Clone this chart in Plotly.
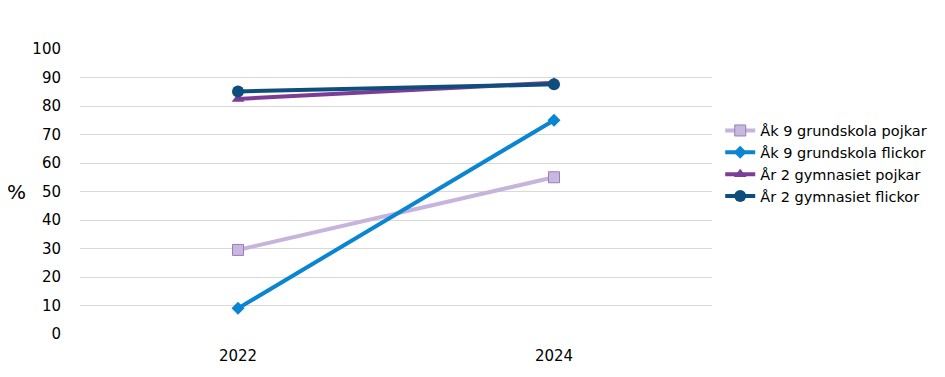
import plotly.graph_objects as go

years = ["2022", "2024"]
ak9_pojkar = [29.5, 55]
ak9_flickor = [9, 75]
gy2_pojkar = [82.5, 88.2]
gy2_flickor = [85.1, 87.6]
names = ["Åk 9 grundskola pojkar", "Åk 9 grundskola flickor",
         "År 2 gymnasiet pojkar", "År 2 gymnasiet flickor"]
y_ticks = list(range(0, 101, 10))

fig = go.Figure()
fig.add_trace(go.Scatter(x=years, y=ak9_pojkar, name=names[0], mode="lines+markers",
                         line=dict(color="#C6B4DC", width=4),
                         marker=dict(symbol="square", size=11, color="#C9B8DE",
                                     line=dict(color="#9A7DBE", width=1))))
fig.add_trace(go.Scatter(x=years, y=ak9_flickor, name=names[1], mode="lines+markers",
                         line=dict(color="#0A85D1", width=4),
                         marker=dict(symbol="diamond", size=10, color="#0A85D1")))
fig.add_trace(go.Scatter(x=years, y=gy2_pojkar, name=names[2], mode="lines+markers",
                         line=dict(color="#7B3D97", width=4),
                         marker=dict(symbol="triangle-up", size=11, color="#7B3D97")))
fig.add_trace(go.Scatter(x=years, y=gy2_flickor, name=names[3], mode="lines+markers",
                         line=dict(color="#0F4D7C", width=4),
                         marker=dict(symbol="circle", size=12, color="#0F4D7C")))

fig.update_layout(
    width=945, height=377,
    margin=dict(l=72, r=241, t=41, b=51),
    paper_bgcolor="white", plot_bgcolor="white",
    font=dict(family="DejaVu Sans", size=15, color="#000000"),
    showlegend=True,
    legend=dict(x=1.013, y=0.77, xanchor="left", yanchor="top",
                font=dict(size=14.5), tracegroupgap=0, itemwidth=30,
                bgcolor="rgba(0,0,0,0)"),
    xaxis=dict(type="category", range=[-0.5, 1.5], showgrid=False, zeroline=False,
               showline=False, ticks="outside", ticklen=8, tickcolor="white"),
    yaxis=dict(range=[0, 100], tickvals=y_ticks, showgrid=True, gridcolor="#D9D9D9",
               gridwidth=1, zeroline=False, showline=False, ticks="outside",
               ticklen=15, tickcolor="white"),
    annotations=[dict(text="%", xref="paper", yref="paper", x=-0.1, y=0.5,
                      xanchor="center", yanchor="middle", showarrow=False,
                      font=dict(size=20))],
)

fig.write_html("out.html")
